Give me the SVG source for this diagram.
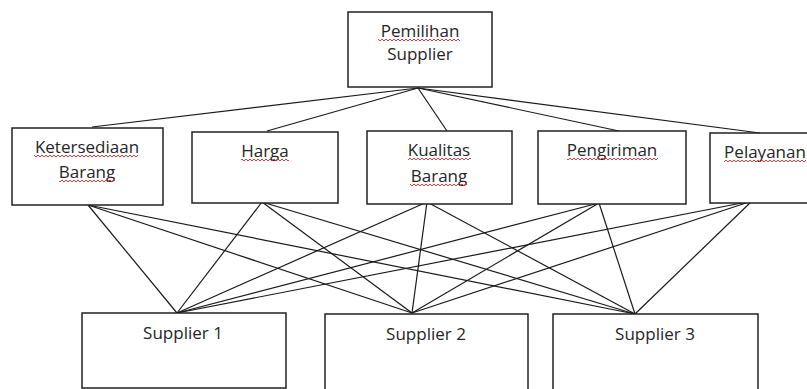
<svg xmlns="http://www.w3.org/2000/svg" width="807" height="389" viewBox="0 0 807 389">
<style>
.box{fill:#fff;stroke:#222;stroke-width:1.5}
.t{font-family:"Open Sans","Noto Sans",sans-serif;font-size:17px;fill:#262626;text-anchor:middle}
.c line{stroke:#1a1a1a;stroke-width:1.2}
.sq{fill:url(#sq)}
</style>
<defs>
<pattern id="sq" width="4" height="4" patternUnits="userSpaceOnUse"><path d="M0,3 L2,1 L4,3" stroke="#e8282b" stroke-width="0.9" fill="none"/></pattern>
</defs>
<rect width="807" height="389" fill="#fff"/>
<g class="c" id="connectors">
<line x1="418" y1="88" x2="92" y2="127"/>
<line x1="418" y1="88" x2="267" y2="131"/>
<line x1="418" y1="88" x2="447" y2="131"/>
<line x1="418" y1="88" x2="619" y2="131"/>
<line x1="418" y1="88" x2="760" y2="133"/>
<line x1="88" y1="205" x2="177" y2="313"/>
<line x1="88" y1="205" x2="412" y2="313"/>
<line x1="88" y1="205" x2="635" y2="314"/>
<line x1="262" y1="202" x2="177" y2="313"/>
<line x1="262" y1="202" x2="412" y2="313"/>
<line x1="262" y1="202" x2="635" y2="314"/>
<line x1="427" y1="202" x2="177" y2="313"/>
<line x1="427" y1="202" x2="412" y2="313"/>
<line x1="427" y1="202" x2="635" y2="314"/>
<line x1="599" y1="203" x2="177" y2="313"/>
<line x1="599" y1="203" x2="412" y2="313"/>
<line x1="599" y1="203" x2="635" y2="314"/>
<line x1="752" y1="201" x2="177" y2="313"/>
<line x1="752" y1="201" x2="412" y2="313"/>
<line x1="752" y1="201" x2="635" y2="314"/>
</g>
<g id="goal">
<rect class="box" x="348" y="12" width="144" height="75"/>
<text class="t" x="420" y="37">Pemilihan</text>
<text class="t" x="420" y="60">Supplier</text>
<rect class="sq" x="378" y="0" width="82" height="4" transform="translate(0,38)"/>
</g>
<g id="ketersediaan">
<rect class="box" x="12" y="128" width="151" height="77"/>
<text class="t" x="87" y="153">Ketersediaan</text>
<text class="t" x="87" y="178">Barang</text>
<rect class="sq" x="34" y="0" width="104" height="4" transform="translate(0,154)"/>
<rect class="sq" x="59" y="0" width="56" height="4" transform="translate(0,179)"/>
</g>
<g id="harga">
<rect class="box" x="192" y="132" width="146" height="71"/>
<text class="t" x="265" y="157">Harga</text>
<rect class="sq" x="241" y="0" width="48" height="4" transform="translate(0,158)"/>
</g>
<g id="kualitas">
<rect class="box" x="367" y="131" width="145" height="73"/>
<text class="t" x="439" y="156">Kualitas</text>
<text class="t" x="439" y="182">Barang</text>
<rect class="sq" x="408" y="0" width="63" height="4" transform="translate(0,157)"/>
<rect class="sq" x="410" y="0" width="57" height="4" transform="translate(0,183)"/>
</g>
<g id="pengiriman">
<rect class="box" x="538" y="131" width="148" height="73"/>
<text class="t" x="612" y="156">Pengiriman</text>
<rect class="sq" x="567" y="0" width="91" height="4" transform="translate(0,157)"/>
</g>
<g id="pelayanan">
<rect class="box" x="710" y="133" width="120" height="70"/>
<text class="t" x="765" y="158">Pelayanan</text>
<rect class="sq" x="724" y="0" width="82" height="4" transform="translate(0,159)"/>
</g>
<g id="supplier1">
<rect class="box" x="82" y="313" width="204" height="75"/>
<text class="t" x="183" y="339">Supplier 1</text>
</g>
<g id="supplier2">
<rect class="box" x="325" y="314" width="203" height="80"/>
<text class="t" x="426" y="340">Supplier 2</text>
</g>
<g id="supplier3">
<rect class="box" x="553" y="314" width="205" height="80"/>
<text class="t" x="655" y="340">Supplier 3</text>
</g>
</svg>
